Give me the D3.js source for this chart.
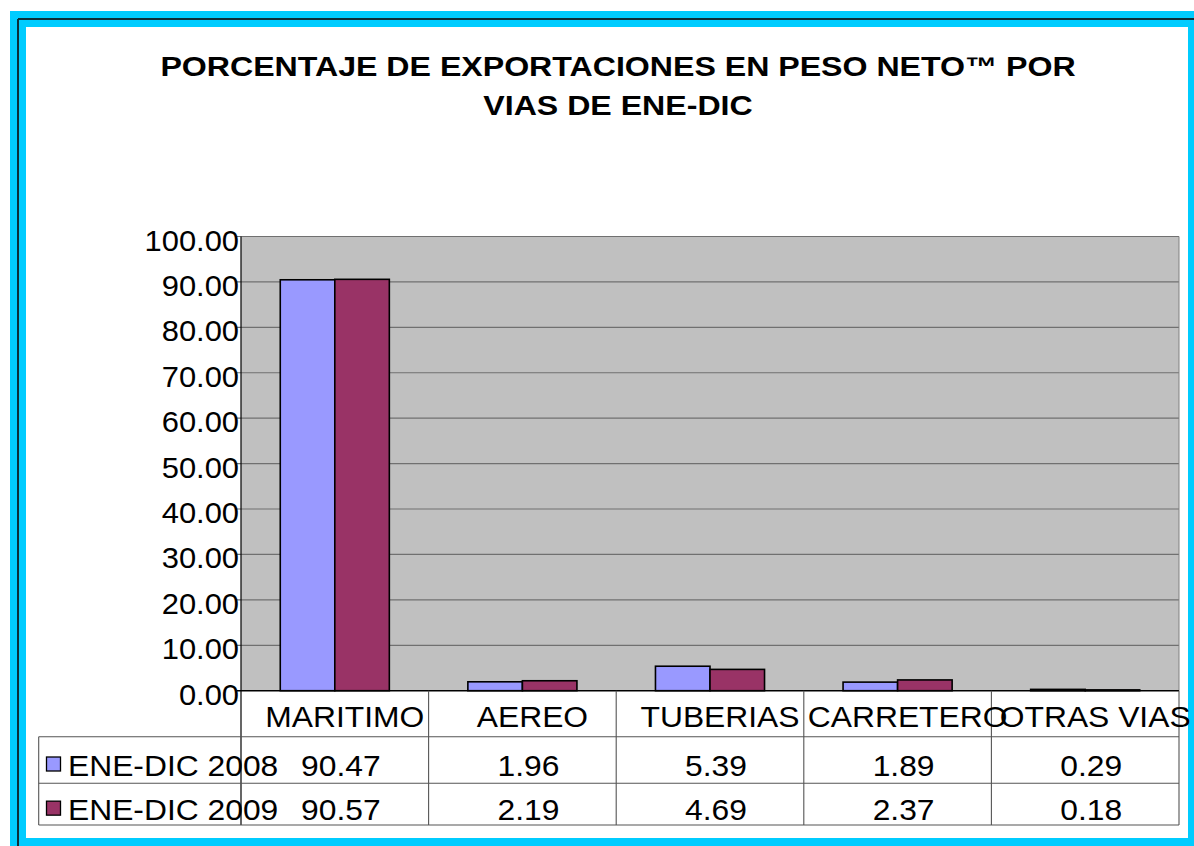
<!DOCTYPE html>
<html>
<head>
<meta charset="utf-8">
<script src="https://cdn.jsdelivr.net/npm/d3@7/dist/d3.min.js"></script>
<style>
  body { margin: 0; background: #fff; }
  svg { display: block; font-family: "Liberation Sans", Arial, sans-serif; }
</style>
</head>
<body>
<div id="chart"></div>
<script>
// values
var categories = ["MARITIMO", "AEREO", "TUBERIAS", "CARRETERO", "OTRAS VIAS"];
var seriesNames = ["ENE-DIC 2008", "ENE-DIC 2009"];
var values2008 = [90.47, 1.96, 5.39, 1.89, 0.29];
var values2009 = [90.57, 2.19, 4.69, 2.37, 0.18];
var yTicks = [0, 10, 20, 30, 40, 50, 60, 70, 80, 90, 100];
var titleLines = ["PORCENTAJE DE EXPORTACIONES EN PESO NETO\u2122 POR", "VIAS DE ENE-DIC"];

var seriesValues = [values2008, values2009];
var colors = ["#9999FF", "#993366"];

var W = 1194, H = 846;
var plot = {left: 241, right: 1179, top: 236.5, bottom: 690.7};
var tableLeft = 38.7, rowLines = [736.7, 783.3, 825];
var sx = 1.06; // text in the original is a bit wide

function place(x, y) { return "translate(" + x + "," + y + ") scale(" + sx + ",1)"; }

var svg = d3.select("#chart").append("svg")
    .attr("width", W)
    .attr("height", H);

// frame
svg.append("rect").attr("x", 10).attr("y", 11).attr("width", W - 10).attr("height", H - 11)
    .attr("fill", "#00CCFF");
svg.append("line").attr("x1", 18).attr("x2", 18).attr("y1", 19).attr("y2", H)
    .attr("stroke", "#0b2f3a").attr("stroke-width", 2);
svg.append("line").attr("x1", 18).attr("x2", W).attr("y1", 19).attr("y2", 19)
    .attr("stroke", "#0b2f3a").attr("stroke-width", 2);
svg.append("rect").attr("x", 26).attr("y", 27).attr("width", 1188 - 26).attr("height", 838 - 27)
    .attr("fill", "#fff");

// title
svg.selectAll(".title")
    .data(titleLines)
    .enter().append("text")
    .attr("class", "title")
    .attr("transform", function (d, i) { return "translate(618," + (76 + i * 39) + ") scale(1.19,1)"; })
    .attr("text-anchor", "middle")
    .attr("font-size", 27)
    .attr("font-weight", "bold")
    .text(function (d) { return d; });

var x0 = d3.scaleBand().domain(categories).range([plot.left, plot.right]).padding(0);
var x1 = d3.scaleBand().domain(seriesNames).range([0, x0.bandwidth()]).paddingInner(0).paddingOuter(0.72);
var y = d3.scaleLinear().domain([0, 100]).range([plot.bottom, plot.top]);

// plot area
svg.append("rect")
    .attr("x", plot.left).attr("y", plot.top)
    .attr("width", plot.right - plot.left).attr("height", plot.bottom - plot.top)
    .attr("fill", "#C0C0C0");

svg.append("g").selectAll("line")
    .data(yTicks.filter(function (d) { return d > 0; }))
    .enter().append("line")
    .attr("x1", plot.left - 4).attr("x2", plot.right)
    .attr("y1", function (d) { return y(d); })
    .attr("y2", function (d) { return y(d); })
    .attr("stroke", "#707070").attr("stroke-width", 1.2);

svg.append("line")
    .attr("x1", plot.right).attr("x2", plot.right)
    .attr("y1", plot.top).attr("y2", plot.bottom)
    .attr("stroke", "#808080");

// y labels
svg.append("g").selectAll("text")
    .data(yTicks)
    .enter().append("text")
    .attr("transform", function (d) { return "translate(239," + (y(d) + 14) + ") scale(1.03,1)"; })
    .attr("text-anchor", "end")
    .attr("font-size", 30)
    .text(function (d) { return d3.format(".2f")(d); });

// bars
var groups = svg.append("g").selectAll("g")
    .data(seriesNames)
    .enter().append("g")
    .attr("fill", function (d, i) { return colors[i]; });

groups.selectAll("rect")
    .data(function (d, i) {
        return categories.map(function (c, j) { return {cat: c, s: d, v: seriesValues[i][j]}; });
    })
    .enter().append("rect")
    .attr("x", function (d) { return x0(d.cat) + x1(d.s); })
    .attr("y", function (d) { return y(d.v); })
    .attr("width", x1.bandwidth())
    .attr("height", function (d) { return y(0) - y(d.v); })
    .attr("stroke", "#000").attr("stroke-width", 1.6);

// axis lines
svg.append("line")
    .attr("x1", plot.left).attr("x2", plot.left)
    .attr("y1", plot.top).attr("y2", rowLines[2])
    .attr("stroke", "#000").attr("stroke-width", 1.2);
svg.append("line")
    .attr("x1", plot.left - 4).attr("x2", plot.right)
    .attr("y1", plot.bottom).attr("y2", plot.bottom)
    .attr("stroke", "#000").attr("stroke-width", 1.4);

// data table
var table = svg.append("g").attr("stroke", "#555").attr("stroke-width", 1.1);
table.selectAll(".hl")
    .data(rowLines)
    .enter().append("line")
    .attr("x1", tableLeft).attr("x2", plot.right)
    .attr("y1", function (d) { return d; })
    .attr("y2", function (d) { return d; });
table.append("line")
    .attr("x1", tableLeft).attr("x2", tableLeft)
    .attr("y1", rowLines[0]).attr("y2", rowLines[2]);
table.selectAll(".vl")
    .data(categories)
    .enter().append("line")
    .attr("x1", function (d) { return x0(d) + x0.bandwidth(); })
    .attr("x2", function (d) { return x0(d) + x0.bandwidth(); })
    .attr("y1", plot.bottom).attr("y2", rowLines[2]);

// category labels
svg.append("g").selectAll("text")
    .data(categories)
    .enter().append("text")
    .attr("transform", function (d) { return place(x0(d) + x0.bandwidth() / 2 + 10, 727); })
    .attr("text-anchor", "middle")
    .attr("font-size", 30)
    .text(function (d) { return d; });

// legend keys + values
seriesNames.forEach(function (s, i) {
    var rowTop = rowLines[i], rowBot = rowLines[i + 1];
    var base = (rowTop + rowBot) / 2 + 16;
    svg.append("rect")
        .attr("x", 46.5).attr("y", base - 19)
        .attr("width", 14).attr("height", 14)
        .attr("fill", colors[i]).attr("stroke", "#000").attr("stroke-width", 1.3);
    svg.append("text")
        .attr("transform", place(68, base))
        .attr("font-size", 30)
        .text(s);
    svg.append("g").selectAll("text")
        .data(seriesValues[i])
        .enter().append("text")
        .attr("transform", function (d, j) { return place(x0(categories[j]) + x0.bandwidth() / 2 + 6, base); })
        .attr("text-anchor", "middle")
        .attr("font-size", 30)
        .text(function (d) { return d3.format(".2f")(d); });
});
</script>
</body>
</html>
